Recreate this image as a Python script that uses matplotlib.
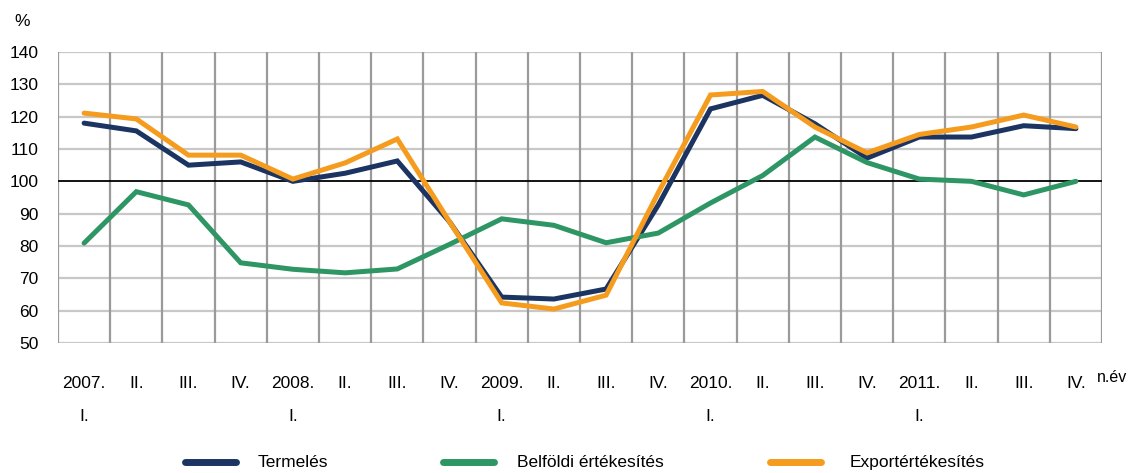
import matplotlib
matplotlib.use("Agg")
import matplotlib.pyplot as plt
from matplotlib.lines import Line2D

plt.rcParams['font.family'] = ['Liberation Sans', 'DejaVu Sans']

quarters = ["2007.\nI.", "II.", "III.", "IV.",
            "2008.\nI.", "II.", "III.", "IV.",
            "2009.\nI.", "II.", "III.", "IV.",
            "2010.\nI.", "II.", "III.", "IV.",
            "2011.\nI.", "II.", "III.", "IV."]

termeles = [118.0, 115.6, 105.0, 106.0, 100.0, 102.5, 106.3, 87.5,
            64.2, 63.6, 66.7, 92.7, 122.4, 126.6, 117.8, 107.2,
            113.7, 113.7, 117.2, 116.3]
belfoldi = [80.9, 96.8, 92.7, 74.8, 72.8, 71.7, 72.9, 80.5,
            88.4, 86.4, 81.0, 84.0, 93.3, 101.8, 113.7, 105.8,
            100.7, 100.0, 95.8, 100.0]
export = [121.1, 119.3, 108.1, 108.1, 100.7, 105.7, 113.1, 87.5,
          62.4, 60.5, 64.8, 96.5, 126.7, 127.8, 116.8, 108.8,
          114.5, 116.8, 120.5, 116.8]

series_names = ["Termelés", "Belföldi értékesítés", "Exportértékesítés"]
colors = ["#1B3461", "#2E9664", "#F59C1F"]
yticks = [50, 60, 70, 80, 90, 100, 110, 120, 130, 140]

W, H = 1132, 473
fig = plt.figure(figsize=(W / 100, H / 100), dpi=100)
ax = fig.add_axes([58 / W, 1 - 343 / H, 1044 / W, 291 / H])

n = len(quarters)
x = list(range(n))
ax.set_xlim(-0.5, n - 0.5)
ax.set_ylim(50, 140)

# grid
for yv in yticks:
    if yv == 100:
        continue
    ax.axhline(yv, color="#c8c8c8", lw=1.6, zorder=1)
for k in range(n + 1):
    ax.axvline(k - 0.5, color="#9a9a9a", lw=1.6, zorder=1)
ax.axhline(100, color="black", lw=1.3, zorder=2)

for vals, c, name in zip([termeles, belfoldi, export], colors, series_names):
    ax.plot(x, vals, color=c, lw=3.6, label=name, zorder=3,
            solid_joinstyle="miter", solid_capstyle="round")

for s in ax.spines.values():
    s.set_visible(False)

ax.set_yticks(yticks)
ax.set_yticklabels([str(v) for v in yticks], fontsize=12.5)
ax.tick_params(axis="y", length=0, pad=14)

ax.set_xticks(x)
ax.set_xticklabels(quarters, fontsize=12.5, linespacing=2.45,
                   multialignment="center")
ax.tick_params(axis="x", length=0, pad=24)

fig.text(14 / W, 1 - 22 / H, "%", fontsize=12.5, ha="left", va="center")
fig.text(1097 / W, 1 - 378 / H, "n.év", fontsize=11.5, ha="left", va="center")

# legend drawn manually to match spacing
leg_y = 1 - 462 / H
leg_items = [(185, 236, 258), (443, 494, 517), (770, 821, 850)]
for (x0, x1, xt), c, name in zip(leg_items, colors, series_names):
    fig.add_artist(Line2D([x0 / W, x1 / W], [leg_y, leg_y], color=c, lw=5,
                          solid_capstyle="round", transform=fig.transFigure))
    fig.text(xt / W, leg_y, name, fontsize=12.5, ha="left", va="center")

fig.savefig("out.png", dpi=100)
